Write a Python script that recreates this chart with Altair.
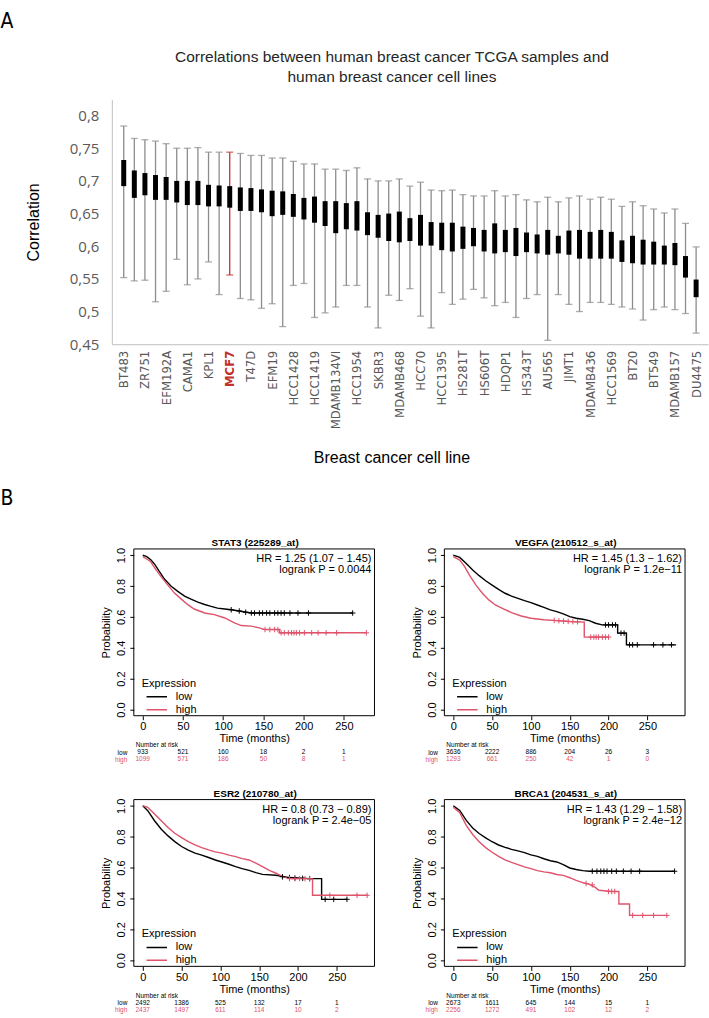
import altair as alt
import pandas as pd

# ---------------- Panel A: correlation of TCGA samples with each cell line ----------------
# 55 cell lines ordered by correlation; every second one carries an axis label
labelled_lines = ["BT483", "ZR751", "EFM192A", "CAMA1", "KPL1", "MCF7", "T47D", "EFM19",
                  "HCC1428", "HCC1419", "MDAMB134VI", "HCC1954", "SKBR3", "MDAMB468", "HCC70",
                  "HCC1395", "HS281T", "HS606T", "HDQP1", "HS343T", "AU565", "JIMT1",
                  "MDAMB436", "HCC1569", "BT20", "BT549", "MDAMB157", "DU4475"]
corr_max = [0.784, 0.765, 0.763, 0.761, 0.757, 0.750, 0.750, 0.751, 0.744, 0.744, 0.744,
            0.742, 0.739, 0.739, 0.735, 0.735, 0.730, 0.726, 0.726, 0.718, 0.718, 0.716,
            0.720, 0.703, 0.700, 0.700, 0.703, 0.692, 0.698, 0.686, 0.685, 0.686, 0.679,
            0.677, 0.677, 0.685, 0.677, 0.679, 0.671, 0.668, 0.675, 0.668, 0.674, 0.677,
            0.672, 0.675, 0.672, 0.661, 0.668, 0.662, 0.657, 0.651, 0.657, 0.635, 0.599]
corr_q3 = [0.732, 0.716, 0.712, 0.709, 0.706, 0.700, 0.700, 0.700, 0.694, 0.693, 0.692,
           0.690, 0.689, 0.687, 0.685, 0.684, 0.680, 0.674, 0.676, 0.669, 0.669, 0.666,
           0.669, 0.652, 0.648, 0.650, 0.653, 0.643, 0.648, 0.637, 0.636, 0.636, 0.630,
           0.628, 0.625, 0.635, 0.625, 0.628, 0.621, 0.618, 0.625, 0.616, 0.624, 0.625,
           0.622, 0.625, 0.622, 0.609, 0.616, 0.610, 0.607, 0.601, 0.605, 0.585, 0.549]
corr_q1 = [0.692, 0.674, 0.678, 0.671, 0.671, 0.667, 0.663, 0.663, 0.661, 0.661, 0.659,
           0.654, 0.654, 0.652, 0.646, 0.648, 0.645, 0.641, 0.636, 0.631, 0.620, 0.626,
           0.624, 0.617, 0.613, 0.608, 0.606, 0.608, 0.601, 0.601, 0.594, 0.592, 0.596,
           0.600, 0.592, 0.589, 0.591, 0.585, 0.591, 0.589, 0.587, 0.589, 0.587, 0.581,
           0.581, 0.581, 0.581, 0.576, 0.574, 0.572, 0.572, 0.572, 0.571, 0.552, 0.522]
corr_min = [0.552, 0.547, 0.548, 0.515, 0.531, 0.580, 0.541, 0.550, 0.576, 0.526, 0.556,
            0.520, 0.518, 0.505, 0.512, 0.477, 0.540, 0.543, 0.491, 0.498, 0.507, 0.540,
            0.540, 0.507, 0.475, 0.525, 0.517, 0.535, 0.493, 0.475, 0.529, 0.511, 0.519,
            0.534, 0.521, 0.509, 0.514, 0.491, 0.520, 0.526, 0.456, 0.526, 0.511, 0.500,
            0.514, 0.514, 0.511, 0.507, 0.504, 0.487, 0.503, 0.507, 0.503, 0.497, 0.467]
mcf7_rank = 10
corr_ticks = [0.45, 0.5, 0.55, 0.6, 0.65, 0.7, 0.75, 0.8]

GREY_TXT = "#595959"
GREY_LINE = "#8c8c8c"
RED = "#c0312b"
NARROW = "Liberation Sans Narrow, DejaVu Sans Condensed, Arial Narrow, sans-serif"
SANS = "Liberation Sans, Arial, sans-serif"

A_W, A_H = 597, 245

boxes = pd.DataFrame({"rank": list(range(len(corr_max))), "lo": corr_min, "q1": corr_q1,
                      "q3": corr_q3, "hi": corr_max})

names_js = "[" + ",".join(f"'{n}'" for n in labelled_lines) + "]"
x_scale = alt.Scale(domain=[-0.65, len(corr_max) - 0.35], nice=False, zero=False)
y_scale = alt.Scale(domain=[0.45, 0.8245], nice=False, zero=False)

x_axis = alt.Axis(
    values=list(range(0, len(corr_max), 2)), tickCount=100,
    labelExpr=f"{names_js}[datum.value / 2]",
    labelAngle=270, labelAlign="right", labelBaseline="middle", labelPadding=6,
    labelFont=NARROW, labelFontSize=13, labelOverlap=False, labelBound=False, labelFlush=False,
    labelColor={"condition": {"test": f"datum.value == {mcf7_rank}", "value": RED}, "value": GREY_TXT},
    labelFontWeight={"condition": {"test": f"datum.value == {mcf7_rank}", "value": "bold"},
                     "value": "normal"},
    ticks=False, grid=False, domainColor="#bfbfbf", domainWidth=1,
    title="Breast cancer cell line", titleFont=SANS, titleFontSize=16, titleFontWeight="normal",
    titleColor="black", titlePadding=21, titleX=280)
y_axis = alt.Axis(
    values=corr_ticks, tickCount=100,
    labelExpr="replace(format(datum.value, '.2~f'), '.', ',')",
    labelFont="Open Sans", labelFontSize=15, labelColor=GREY_TXT, labelPadding=13,
    labelOverlap=False, labelBound=False, labelFlush=False, ticks=False, grid=False,
    domainColor="#bfbfbf", domainWidth=1,
    title="Correlation", titleFont=SANS, titleFontSize=16, titleFontWeight="normal",
    titleColor="black", titlePadding=28)

base = alt.Chart(boxes)
whisker_colour = alt.condition(f"datum.rank == {mcf7_rank}", alt.value(RED), alt.value(GREY_LINE))
whiskers = base.mark_rule(strokeWidth=1.3).encode(
    x=alt.X("rank:Q", scale=x_scale, axis=x_axis),
    y=alt.Y("lo:Q", scale=y_scale, axis=y_axis), y2="hi:Q", color=whisker_colour)
cap_hi = base.mark_tick(orient="horizontal", size=7, thickness=1.3).encode(
    x="rank:Q", y="hi:Q", color=whisker_colour)
cap_lo = base.mark_tick(orient="horizontal", size=7, thickness=1.3).encode(
    x="rank:Q", y="lo:Q", color=whisker_colour)
iqr = base.mark_bar(size=5, color="black").encode(x="rank:Q", y="q1:Q", y2="q3:Q")

panel_a = alt.layer(whiskers, cap_hi, cap_lo, iqr).properties(
    width=A_W, height=A_H,
    title=alt.TitleParams(["Correlations between human breast cancer TCGA samples and",
                           "human breast cancer cell lines"],
                          font=SANS, fontSize=15.5, fontWeight="normal", color="#262626",
                          anchor="middle", frame="group", dx=-18, lineHeight=20, offset=14))

# ---------------- Panel B: Kaplan-Meier curves ----------------
PINK = "#DF536B"
risk_times = [0, 50, 100, 150, 200, 250]

stat3_low_t = [0, 5, 10, 15, 20, 27, 35, 43.6, 52, 60, 68.5, 77, 85, 93, 102, 110, 118, 127, 135, 261]
stat3_low_s = [1.0, 0.99, 0.97, 0.94, 0.90, 0.845, 0.80, 0.765, 0.735, 0.715, 0.695, 0.68, 0.668,
               0.657, 0.651, 0.646, 0.64, 0.632, 0.625, 0.625]
stat3_high_t = [0, 5, 10, 16.6, 22.8, 31, 39.5, 48, 56, 64, 77, 89, 102, 114, 122.5, 135, 145, 152,
                170, 170, 278]
stat3_high_s = [0.99, 0.975, 0.957, 0.904, 0.861, 0.807, 0.754, 0.715, 0.679, 0.651, 0.625, 0.615,
                0.593, 0.561, 0.544, 0.54, 0.529, 0.518, 0.518, 0.497, 0.497]
stat3_low_cens = [(110, 0.646), (120, 0.638), (128, 0.63), (135, 0.625), (139, 0.625), (145, 0.625),
                  (149, 0.625), (154, 0.625), (158, 0.625), (164, 0.625), (168, 0.625), (172, 0.625),
                  (176, 0.625), (183, 0.625), (193, 0.625), (206, 0.625), (261, 0.625)]
stat3_high_cens = [(152, 0.518), (158, 0.518), (164, 0.518), (168, 0.518), (172, 0.497), (176, 0.497),
                   (181, 0.497), (185, 0.497), (188, 0.497), (191, 0.497), (195, 0.497), (201, 0.497),
                   (210, 0.497), (218, 0.497), (228, 0.497), (241, 0.497), (278, 0.497)]

vegfa_low_t = [0, 8.3, 16.7, 25, 33.3, 41.7, 50, 58.3, 66.7, 75, 83.3, 91.7, 100, 108.3, 116.7, 125,
               133.3, 141.7, 150, 158.3, 166.7, 175, 183.3, 191.7, 211.7, 211.7, 223, 223, 287]
vegfa_low_s = [1.0, 0.985, 0.946, 0.903, 0.867, 0.834, 0.806, 0.778, 0.753, 0.735, 0.72, 0.705, 0.692,
               0.677, 0.662, 0.645, 0.634, 0.619, 0.602, 0.591, 0.585, 0.576, 0.559, 0.548, 0.548,
               0.495, 0.495, 0.419, 0.419]
vegfa_high_t = [0, 8.3, 14.6, 20.8, 29.2, 37.5, 45.8, 54.2, 62.5, 75, 87.5, 100, 116.7, 133.3, 150,
                168.7, 168.7, 200]
vegfa_high_s = [0.99, 0.968, 0.925, 0.871, 0.806, 0.753, 0.71, 0.677, 0.656, 0.628, 0.606, 0.591,
                0.581, 0.576, 0.57, 0.566, 0.469, 0.469]
vegfa_low_cens = [(196, 0.548), (200, 0.548), (205, 0.548), (209, 0.548), (216, 0.495), (220, 0.495),
                  (227, 0.419), (231, 0.419), (237, 0.419), (258, 0.419), (270, 0.419), (281, 0.419)]
vegfa_high_cens = [(130, 0.577), (136, 0.575), (142, 0.573), (148, 0.571), (154, 0.569), (160, 0.568),
                   (177, 0.469), (181, 0.469), (184, 0.469), (187, 0.469), (192, 0.469), (196, 0.469),
                   (200, 0.469)]

esr2_low_t = [0, 6.5, 15.2, 23.9, 32.6, 41.3, 50, 58.7, 67.4, 76, 84.8, 93.5, 102, 111, 119.6, 128,
              137, 145.7, 154.3, 171.7, 189, 215, 230.4, 230.4, 263]
esr2_low_s = [1.0, 0.968, 0.903, 0.848, 0.805, 0.768, 0.736, 0.712, 0.693, 0.68, 0.665, 0.649, 0.636,
              0.621, 0.606, 0.593, 0.582, 0.567, 0.556, 0.55, 0.535, 0.528, 0.528, 0.394, 0.394]
esr2_high_t = [0, 6.5, 15.2, 23.9, 32.6, 41.3, 50, 58.7, 67.4, 76, 84.8, 93.5, 102, 111, 119.6, 128,
               137, 145.7, 154.3, 163, 171.7, 180.4, 189, 218.7, 218.7, 289]
esr2_high_s = [1.0, 0.99, 0.946, 0.903, 0.859, 0.822, 0.794, 0.768, 0.747, 0.729, 0.714, 0.701,
               0.693, 0.68, 0.671, 0.658, 0.649, 0.628, 0.606, 0.582, 0.563, 0.541, 0.528, 0.528,
               0.42, 0.42]
esr2_low_cens = [(180, 0.54), (189, 0.535), (196, 0.532), (206, 0.53), (215, 0.528), (235, 0.394),
                 (246, 0.394), (263, 0.394)]
esr2_high_cens = [(189, 0.528), (196, 0.528), (202, 0.528), (209, 0.528), (215, 0.528), (241, 0.42),
                  (276, 0.42), (289, 0.42)]

brca1_low_t = [0, 8.3, 16.7, 25, 33.3, 41.7, 50, 58.3, 66.7, 75, 83.3, 91.7, 100, 108.3, 116.7, 125,
               133.3, 141.7, 150, 158.3, 166.7, 175, 285]
brca1_low_s = [1.0, 0.97, 0.905, 0.856, 0.82, 0.792, 0.767, 0.746, 0.731, 0.718, 0.708, 0.697, 0.682,
               0.672, 0.657, 0.644, 0.636, 0.619, 0.597, 0.587, 0.58, 0.576, 0.576]
brca1_high_t = [0, 8.3, 16.7, 25, 33.3, 41.7, 50, 58.3, 66.7, 75, 83.3, 91.7, 100, 108.3, 116.7, 125,
                133.3, 141.7, 150, 158.3, 166.7, 175, 183.3, 187.5, 204, 213.3, 213.3, 227, 227, 275]
brca1_high_s = [0.99, 0.955, 0.873, 0.814, 0.767, 0.729, 0.699, 0.672, 0.65, 0.633, 0.619, 0.604,
                0.593, 0.58, 0.572, 0.566, 0.555, 0.549, 0.534, 0.517, 0.502, 0.492, 0.47, 0.453,
                0.445, 0.445, 0.364, 0.364, 0.29, 0.29]
brca1_low_cens = [(179, 0.576), (185, 0.576), (190, 0.576), (194, 0.576), (198, 0.576), (204, 0.576),
                  (210, 0.576), (219, 0.576), (229, 0.576), (240, 0.576), (285, 0.576)]
brca1_high_cens = [(171, 0.497), (179, 0.488), (200, 0.445), (204, 0.445), (208, 0.445), (231, 0.29),
                   (244, 0.29), (258, 0.29), (275, 0.29)]

risk = {
    "STAT3": ([933, 521, 160, 18, 2, 1], [1099, 571, 186, 50, 8, 1]),
    "VEGFA": ([3636, 2222, 886, 204, 26, 3], [1293, 661, 250, 42, 1, 0]),
    "ESR2": ([2492, 1386, 525, 132, 17, 1], [2437, 1497, 611, 114, 10, 2]),
    "BRCA1": ([2673, 1611, 645, 144, 15, 1], [2256, 1272, 491, 102, 12, 2]),
}

# each survival view keeps a left margin (KM_PAD) inside its own width; the framed
# plotting box and the probability axis start after it
KM_PAD, KM_BOX, KM_H = 22, 241, 167
KM_W = KM_PAD + KM_BOX
TXT = 11
RISK_TXT = 6.5
P_LO, P_HI = -0.04, 1.04


def km_panel(title, xmax, low_t, low_s, high_t, high_s, low_cens, high_cens, risk_low, risk_high,
             hr_text, p_text):
    rows = []
    for grp, ts, ss in (("low", low_t, low_s), ("high", high_t, high_s)):
        for k, (t, s) in enumerate(zip(ts, ss)):
            rows.append({"t": t, "s": s, "grp": grp, "k": k})
    curves = pd.DataFrame(rows)
    cens = pd.DataFrame([{"t": t, "s": s, "hex": "black"} for t, s in low_cens] +
                        [{"t": t, "s": s, "hex": PINK} for t, s in high_cens])
    t_lo, t_hi = -0.04 * xmax, 1.04 * xmax

    xsc = alt.Scale(domain=[t_lo, t_hi], range=[KM_PAD, KM_W], nice=False, zero=False)
    ysc = alt.Scale(domain=[P_LO, P_HI], nice=False, zero=False)
    xax = alt.Axis(values=risk_times, tickCount=50, title="Time (months)", grid=False, domain=False,
                   tickColor="black", tickSize=4, labelPadding=1, labelFont=SANS, labelFontSize=TXT,
                   labelColor="black", labelOverlap=False, titleFont=SANS, titleFontSize=TXT,
                   titleFontWeight="normal", titleColor="black", titlePadding=1,
                   titleX=KM_PAD + KM_BOX / 2)
    yax = alt.Axis(values=[0, 0.2, 0.4, 0.6, 0.8, 1.0], tickCount=50, format=".1f",
                   title="Probability", grid=False, offset=-KM_PAD,
                   domain=False, tickColor="black", tickSize=4, labelAngle=270, labelAlign="center",
                   labelBaseline="bottom", labelPadding=3, labelFont=SANS, labelFontSize=TXT,
                   labelColor="black", labelOverlap=False, titleFont=SANS, titleFontSize=TXT,
                   titleFontWeight="normal", titleColor="black", titlePadding=4)
    legend = alt.Legend(title="Expression", orient="none", legendX=KM_PAD + 8, legendY=KM_H - 38,
                        padding=0, titleFont=SANS, titleFontSize=TXT, titleFontWeight="normal",
                        titleColor="black", titlePadding=3, labelFont=SANS, labelFontSize=TXT,
                        labelColor="black", symbolType="stroke", symbolSize=420,
                        symbolStrokeWidth=1.5, clipHeight=10, labelOffset=8, symbolOffset=4)
    frame = alt.Chart(pd.DataFrame({"t0": [t_lo], "t1": [t_hi], "p0": [P_LO], "p1": [P_HI]})).mark_rect(
        fillOpacity=0, stroke="black", strokeWidth=1).encode(
        x=alt.X("t0:Q", scale=xsc, axis=xax), x2="t1:Q",
        y=alt.Y("p0:Q", scale=ysc, axis=yax), y2="p1:Q")
    lines = alt.Chart(curves).mark_line(strokeWidth=1.4).encode(
        x="t:Q", y="s:Q",
        color=alt.Color("grp:N", scale=alt.Scale(domain=["low", "high"], range=["black", PINK]),
                        legend=legend),
        order="k:Q")
    censored = alt.Chart(cens).mark_point(shape="M0,-1L0,1M-1,0L1,0", size=30, strokeWidth=1,
                                          filled=False, opacity=1).encode(
        x="t:Q", y="s:Q", stroke=alt.Stroke("hex:N", scale=None))
    hr = alt.Chart(pd.DataFrame({"txt": [hr_text]})).mark_text(
        align="right", baseline="middle", font=SANS, fontSize=TXT).encode(
        x=alt.value(KM_W - 3), y=alt.value(10), text="txt:N")
    pv = alt.Chart(pd.DataFrame({"txt": [p_text]})).mark_text(
        align="right", baseline="middle", font=SANS, fontSize=TXT).encode(
        x=alt.value(KM_W - 3), y=alt.value(21), text="txt:N")
    km = alt.layer(frame, lines, censored, hr, pv).properties(
        width=KM_W, height=KM_H,
        title=alt.TitleParams(title, font=SANS, fontSize=10, fontWeight="bold", color="black",
                              anchor="middle", frame="group", dx=KM_PAD / 2 + 1, offset=-1))

    table = pd.DataFrame({"t": risk_times * 2, "n": risk_low + risk_high,
                          "grp": ["low"] * 6 + ["high"] * 6, "hex": ["black"] * 6 + [PINK] * 6})
    at_risk = alt.Chart(table).mark_text(font=SANS, fontSize=RISK_TXT).encode(
        x=alt.X("t:Q", scale=xsc, axis=None),
        y=alt.Y("grp:N", sort=["low", "high"],
                axis=alt.Axis(title=None, ticks=False, domain=False, labelFont=SANS,
                              labelFontSize=RISK_TXT, labelPadding=7, labelOverlap=False,
                              offset=-KM_PAD,
                              labelColor={"condition": {"test": "datum.value == 'high'", "value": PINK},
                                          "value": "black"})),
        text="n:Q", color=alt.Color("hex:N", scale=None)
    ).properties(width=KM_W, height=14,
                 title=alt.TitleParams("Number at risk", font=SANS, fontSize=RISK_TXT,
                                       fontWeight="normal", color="black", anchor="start",
                                       offset=0, dx=KM_PAD + 2))
    return alt.vconcat(km, at_risk, spacing=-3).resolve_scale(color="independent")


p_stat3 = km_panel("STAT3 (225289_at)", 277, stat3_low_t, stat3_low_s, stat3_high_t, stat3_high_s,
                   stat3_low_cens, stat3_high_cens, *risk["STAT3"],
                   "HR = 1.25 (1.07 \u2212 1.45)", "logrank P = 0.0044")
p_vegfa = km_panel("VEGFA (210512_s_at)", 287, vegfa_low_t, vegfa_low_s, vegfa_high_t, vegfa_high_s,
                   vegfa_low_cens, vegfa_high_cens, *risk["VEGFA"],
                   "HR = 1.45 (1.3 \u2212 1.62)", "logrank P = 1.2e\u221211")
p_esr2 = km_panel("ESR2 (210780_at)", 287, esr2_low_t, esr2_low_s, esr2_high_t, esr2_high_s,
                  esr2_low_cens, esr2_high_cens, *risk["ESR2"],
                  "HR = 0.8 (0.73 \u2212 0.89)", "logrank P = 2.4e\u221205")
p_brca1 = km_panel("BRCA1 (204531_s_at)", 287, brca1_low_t, brca1_low_s, brca1_high_t, brca1_high_s,
                   brca1_low_cens, brca1_high_cens, *risk["BRCA1"],
                   "HR = 1.43 (1.29 \u2212 1.58)", "logrank P = 2.4e\u221212")

row1 = alt.hconcat(p_stat3, p_vegfa, spacing=35).resolve_scale(color="independent").resolve_legend(color="independent")
row2 = alt.hconcat(p_esr2, p_brca1, spacing=35).resolve_scale(color="independent").resolve_legend(color="independent")
block_b = alt.vconcat(row1, row2, spacing=25,
                      title=alt.TitleParams("B", font=NARROW, fontSize=21, fontWeight="normal",
                                            color="black", anchor="start", dx=-100, offset=29)
                      ).resolve_scale(color="independent").resolve_legend(color="independent")

chart = alt.vconcat(
    panel_a, block_b, spacing=21,
    title=alt.TitleParams("A", font=NARROW, fontSize=21, fontWeight="normal", color="black",
                          anchor="start", offset=18),
).resolve_scale(color="independent").resolve_legend(color="independent").properties(
    padding={"left": 0, "top": 10, "right": 0, "bottom": 0}
).configure_view(stroke="transparent")

chart.save("out.html", embed_options={"renderer": "svg", "actions": False})
